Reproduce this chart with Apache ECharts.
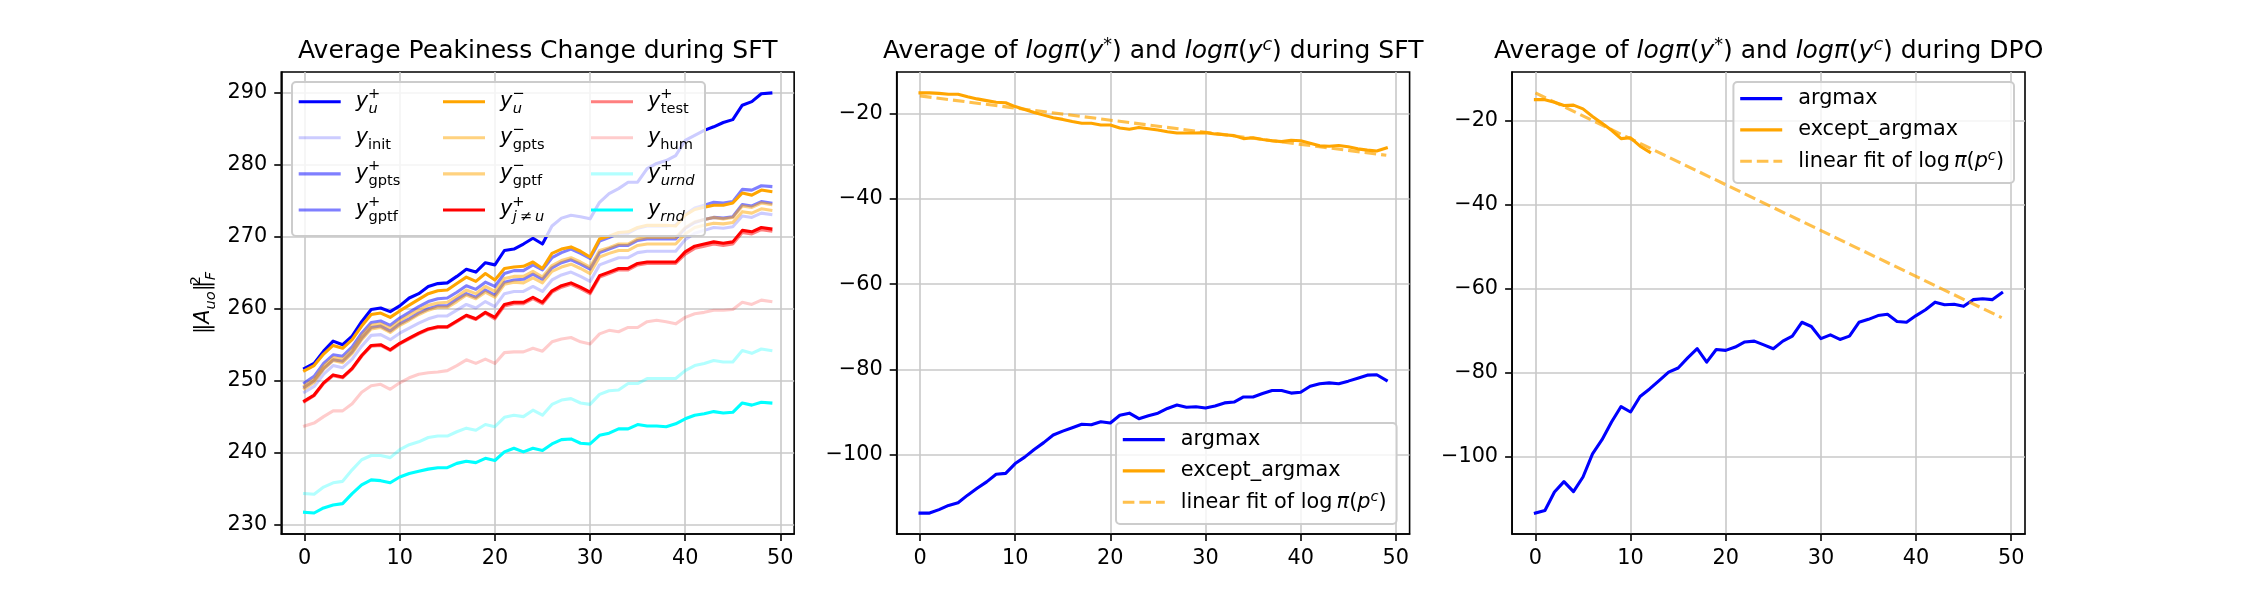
<!DOCTYPE html>
<html>
<head>
<meta charset="utf-8">
<title>Peakiness / log-prob during SFT and DPO</title>
<script src="https://cdn.jsdelivr.net/npm/echarts@6/dist/echarts.min.js"></script>
<style>
html, body { margin: 0; padding: 0; background: #fff; }
#main { width: 2250px; height: 600px; }
</style>
</head>
<body>
<div id="main"></div>
<script>
// x values: training steps 0..49
var steps = [0, 1, 2, 3, 4, 5, 6, 7, 8, 9, 10, 11, 12, 13, 14, 15, 16, 17, 18, 19,
    20, 21, 22, 23, 24, 25, 26, 27, 28, 29, 30, 31, 32, 33, 34, 35, 36, 37, 38, 39,
    40, 41, 42, 43, 44, 45, 46, 47, 48, 49];
var fitSteps = [0, 49];

// panel 1: average peakiness ||A_uo||_F^2
var yUPlus = [251.7, 252.4, 254.1, 255.5, 255.0, 256.2, 258.2, 259.9, 260.1, 259.6,
    260.4, 261.5, 262.1, 263.1, 263.5, 263.6, 264.5, 265.5, 265.1, 266.4,
    266.1, 268.1, 268.3, 269.0, 269.8, 269.0, 271.5, 272.6, 273.0, 272.8,
    272.5, 274.8, 276.0, 276.7, 277.6, 277.6, 279.5, 280.2, 280.6, 281.3,
    283.4, 284.1, 284.8, 285.3, 285.9, 286.3, 288.3, 288.8, 289.9, 290.0];
var yInit = [248.4, 249.2, 250.9, 252.1, 251.8, 253.0, 254.8, 256.3, 256.4, 255.7,
    256.6, 257.3, 258.0, 258.6, 259.0, 259.0, 259.8, 260.6, 260.1, 261.0,
    260.3, 262.1, 262.4, 262.4, 263.1, 262.4, 264.0, 264.7, 265.1, 264.5,
    263.8, 266.1, 266.6, 267.1, 267.1, 267.8, 268.0, 268.0, 268.0, 268.0,
    269.6, 270.5, 270.9, 271.3, 271.2, 271.4, 272.9, 272.7, 273.3, 273.1];
var yGptsPlus = [249.7, 250.6, 252.4, 253.6, 253.4, 254.7, 256.6, 258.1, 258.3, 257.7,
    258.7, 259.5, 260.3, 261.0, 261.4, 261.5, 262.3, 263.2, 262.7, 263.7,
    263.1, 264.9, 265.3, 265.3, 266.1, 265.4, 267.1, 267.8, 268.3, 267.7,
    267.0, 269.4, 269.9, 270.5, 270.5, 271.2, 271.5, 271.5, 271.5, 271.6,
    273.1, 274.0, 274.4, 274.8, 274.7, 274.9, 276.6, 276.5, 277.1, 277.0];
var yGptfPlus = [249.1, 250.0, 251.7, 252.9, 252.7, 254.0, 255.9, 257.4, 257.6, 256.9,
    257.9, 258.6, 259.4, 260.0, 260.4, 260.4, 261.3, 262.1, 261.6, 262.6,
    261.9, 263.7, 264.0, 264.1, 264.8, 264.1, 265.7, 266.4, 266.8, 266.2,
    265.5, 267.8, 268.3, 268.8, 268.8, 269.5, 269.7, 269.7, 269.7, 269.7,
    271.2, 272.0, 272.4, 272.7, 272.6, 272.8, 274.5, 274.3, 274.9, 274.7];
var yUMinus = [251.4, 252.1, 253.7, 254.9, 254.5, 255.7, 257.6, 259.2, 259.4, 258.8,
    259.7, 260.5, 261.3, 262.1, 262.5, 262.6, 263.5, 264.4, 263.8, 264.9,
    264.0, 265.6, 265.8, 265.9, 266.5, 265.6, 267.7, 268.3, 268.6, 268.0,
    267.2, 269.7, 270.1, 270.6, 270.7, 271.3, 271.6, 271.6, 271.6, 271.5,
    273.0, 273.8, 274.1, 274.4, 274.4, 274.7, 276.1, 275.8, 276.5, 276.3];
var yGptsMinus = [249.3, 250.2, 252.0, 253.2, 253.0, 254.3, 256.2, 257.7, 257.9, 257.3,
    258.3, 259.1, 259.8, 260.5, 260.8, 260.9, 261.7, 262.6, 262.1, 263.1,
    262.4, 264.2, 264.5, 264.5, 265.2, 264.4, 266.0, 266.7, 267.1, 266.5,
    265.8, 268.1, 268.5, 269.0, 269.0, 269.7, 269.9, 269.9, 269.9, 269.9,
    271.3, 272.1, 272.4, 272.7, 272.5, 272.7, 274.3, 274.1, 274.7, 274.5];
var yGptfMinus = [248.9, 249.8, 251.6, 252.8, 252.5, 253.8, 255.7, 257.2, 257.4, 256.7,
    257.7, 258.4, 259.2, 259.8, 260.2, 260.2, 261.0, 261.9, 261.4, 262.3,
    261.6, 263.4, 263.7, 263.6, 264.3, 263.6, 265.2, 265.8, 266.2, 265.6,
    264.9, 267.2, 267.7, 268.1, 268.1, 268.8, 269.0, 269.0, 269.0, 269.0,
    270.4, 271.3, 271.6, 271.9, 271.8, 272.0, 273.5, 273.3, 273.9, 273.7];
var yJneU = [247.2, 248.0, 249.7, 250.8, 250.5, 251.7, 253.5, 254.9, 255.0, 254.3,
    255.2, 255.9, 256.6, 257.2, 257.5, 257.5, 258.3, 259.1, 258.6, 259.5,
    258.8, 260.6, 260.9, 260.9, 261.6, 260.9, 262.5, 263.2, 263.6, 263.0,
    262.3, 264.6, 265.1, 265.6, 265.6, 266.3, 266.5, 266.5, 266.5, 266.5,
    267.9, 268.7, 269.0, 269.3, 269.1, 269.3, 270.9, 270.7, 271.3, 271.1];
var yTest = [247.1, 247.9, 249.6, 250.7, 250.4, 251.6, 253.4, 254.8, 254.9, 254.2,
    255.1, 255.8, 256.5, 257.1, 257.4, 257.4, 258.2, 259.0, 258.5, 259.4,
    258.6, 260.4, 260.7, 260.7, 261.4, 260.7, 262.3, 263.0, 263.4, 262.8,
    262.1, 264.4, 264.9, 265.4, 265.4, 266.1, 266.3, 266.3, 266.3, 266.3,
    267.6, 268.4, 268.7, 269.0, 268.8, 269.0, 270.6, 270.4, 271.0, 270.8];
var yHum = [243.7, 244.1, 245.0, 245.8, 245.8, 246.8, 248.4, 249.3, 249.5, 248.8,
    249.7, 250.4, 250.9, 251.1, 251.2, 251.4, 252.1, 252.9, 252.4, 253.0,
    252.4, 253.9, 254.0, 254.0, 254.5, 254.1, 255.4, 255.8, 256.0, 255.4,
    255.1, 256.5, 257.0, 256.8, 257.4, 257.4, 258.2, 258.4, 258.2, 257.9,
    258.8, 259.3, 259.5, 259.8, 259.8, 259.9, 260.9, 260.6, 261.2, 261.0];
var yUrnd = [234.3, 234.2, 235.2, 235.8, 236.0, 237.6, 239.0, 239.6, 239.6, 239.3,
    240.4, 241.1, 241.5, 242.1, 242.3, 242.3, 242.9, 243.4, 243.1, 243.9,
    243.6, 244.9, 245.2, 245.0, 245.9, 245.2, 246.7, 247.3, 247.5, 246.9,
    246.7, 248.1, 248.6, 248.7, 249.6, 249.6, 250.3, 250.3, 250.3, 250.3,
    251.4, 252.1, 252.4, 252.8, 252.6, 252.6, 254.2, 253.8, 254.4, 254.2];
var yRnd = [231.7, 231.6, 232.3, 232.7, 232.9, 234.3, 235.5, 236.2, 236.1, 235.8,
    236.6, 237.1, 237.4, 237.7, 237.9, 237.9, 238.5, 238.8, 238.6, 239.2,
    238.9, 240.1, 240.6, 240.1, 240.6, 240.3, 241.2, 241.8, 241.9, 241.3,
    241.2, 242.4, 242.7, 243.3, 243.3, 243.9, 243.7, 243.7, 243.6, 244.0,
    244.7, 245.2, 245.4, 245.7, 245.5, 245.6, 246.9, 246.6, 247.0, 246.9];

// panel 2: log-prob during SFT
var sftArgmax = [-113.6, -113.6, -112.8, -111.8, -111.2, -109.4, -107.8, -106.3, -104.5, -104.3,
    -102.0, -100.5, -98.7, -97.1, -95.3, -94.4, -93.6, -92.8, -92.9, -92.2,
    -92.5, -90.7, -90.2, -91.5, -90.8, -90.2, -89.1, -88.3, -88.8, -88.7,
    -89.0, -88.5, -87.8, -87.6, -86.4, -86.4, -85.6, -84.9, -84.9, -85.5,
    -85.3, -83.9, -83.3, -83.1, -83.3, -82.7, -82.0, -81.3, -81.2, -82.5];
var sftExcept = [-15.2, -15.2, -15.3, -15.5, -15.5, -16.1, -16.6, -17.0, -17.4, -17.5,
    -18.4, -19.1, -19.8, -20.4, -21.0, -21.4, -21.9, -22.3, -22.3, -22.7,
    -22.7, -23.4, -23.7, -23.3, -23.6, -23.9, -24.3, -24.6, -24.6, -24.6,
    -24.5, -24.8, -25.0, -25.2, -25.9, -25.7, -26.1, -26.4, -26.6, -26.3,
    -26.4, -27.0, -27.6, -27.7, -27.5, -27.8, -28.3, -28.6, -28.8, -28.1];
var sftFit = [-15.9, -29.8];

// panel 3: log-prob during DPO
var dpoArgmax = [-113.5, -112.9, -108.5, -106.0, -108.4, -104.9, -99.4, -96.0, -91.8, -88.1,
    -89.4, -85.7, -83.9, -81.9, -79.9, -78.9, -76.5, -74.3, -77.5, -74.5,
    -74.7, -73.9, -72.7, -72.5, -73.4, -74.3, -72.5, -71.3, -68.0, -69.0,
    -71.9, -71.0, -72.1, -71.3, -68.0, -67.3, -66.4, -66.1, -67.8, -68.0,
    -66.4, -65.0, -63.2, -63.8, -63.7, -64.2, -62.6, -62.4, -62.6, -61.0];
var dpoExcept = [-14.9, -14.9, -15.5, -16.3, -16.2, -17.1, -18.9, -20.5, -22.2, -24.2,
    -24.0, -26.0, -27.4];
var dpoFit = [-13.3, -66.9];

var xTicks = [0, 10, 20, 30, 40, 50];
var peakTicks = [230, 240, 250, 260, 270, 280, 290];
var logTicks = [-100, -80, -60, -40, -20];

var font = 'DejaVu Sans';
var fs = 20.8;

// legend handles: a solid bar and a dashed bar, 42 x 3.1 px
var solidIcon = 'path://M0,0H42V3.1H0Z';
var dashIcon = 'path://M0,0H11.6V3.1H0Z M16.6,0H28.2V3.1H16.6Z M33.2,0H42V3.1H33.2Z';

function pairs(xs, ys) {
    return ys.map(function (v, i) { return [xs[i], v]; });
}

function minusSign(v) {
    return String(v).replace('-', '\u2212');
}

var grids = [281.25, 896.7, 1512.1].map(function (left) {
    return {
        left: left, top: 72, width: 512.9, height: 462,
        show: true, borderColor: '#000', borderWidth: 1.6,
        backgroundColor: 'transparent', containLabel: false
    };
});

function makeX(idx) {
    return {
        type: 'value', gridIndex: idx, min: -2.45, max: 51.45,
        axisLine: { show: true, onZero: false, lineStyle: { color: '#000', width: 1.6 } },
        axisTick: { show: true, length: 7, customValues: xTicks, lineStyle: { color: '#000', width: 1.6 } },
        axisLabel: {
            customValues: xTicks, margin: 14, color: '#000', fontSize: fs, fontFamily: font,
            formatter: function (v) { return v % 10 === 0 ? minusSign(v) : ''; }
        },
        splitLine: { show: true, lineStyle: { color: '#c8c8c8', width: 1.6 } }
    };
}

function makeY(idx, min, max, ticks) {
    return {
        type: 'value', gridIndex: idx, min: min, max: max,
        axisLine: { show: true, onZero: false, lineStyle: { color: '#000', width: 1.6 } },
        axisTick: { show: true, length: 7, customValues: ticks, lineStyle: { color: '#000', width: 1.6 } },
        axisLabel: {
            customValues: ticks, margin: 14, color: '#000', fontSize: fs, fontFamily: font,
            formatter: function (v) { return v % 10 === 0 ? minusSign(v) : ''; }
        },
        splitLine: { show: true, lineStyle: { color: '#c8c8c8', width: 1.6 } }
    };
}

// panel 1 series table: name, data, colour (plot order)
var peakTable = [
    ['u+', yUPlus, 'rgb(0,0,255)'],
    ['init', yInit, 'rgba(0,0,255,0.2)'],
    ['gpts+', yGptsPlus, 'rgba(0,0,255,0.5)'],
    ['gptf+', yGptfPlus, 'rgba(0,0,255,0.5)'],
    ['u-', yUMinus, 'rgb(255,165,0)'],
    ['gpts-', yGptsMinus, 'rgba(255,165,0,0.5)'],
    ['gptf-', yGptfMinus, 'rgba(255,165,0,0.5)'],
    ['jneu', yJneU, 'rgb(255,0,0)'],
    ['test', yTest, 'rgba(255,0,0,0.5)'],
    ['hum', yHum, 'rgba(255,0,0,0.2)'],
    ['urnd', yUrnd, 'rgba(0,255,255,0.3)'],
    ['rnd', yRnd, 'rgb(0,255,255)']
];

var peakLabels = {
    'u+': '{i|y}{pz|+}{sb|u}',
    'init': '{i|y}{sr|init}',
    'gpts+': '{i|y}{pz|+}{sr|gpts}',
    'gptf+': '{i|y}{pz|+}{sr|gptf}',
    'u-': '{i|y}{pz|\u2212}{sb|u}',
    'gpts-': '{i|y}{pz|\u2212}{sr|gpts}',
    'gptf-': '{i|y}{pz|\u2212}{sr|gptf}',
    'jneu': '{i|y}{pz|+}{sb|j\u2009\u2260\u2009u}',
    'test': '{i|y}{pz|+}{sr|test}',
    'hum': '{i|y}{sr|hum}',
    'urnd': '{i|y}{pz|+}{sb|urnd}',
    'rnd': '{i|y}{sb|rnd}'
};

var logLabels = {
    'sft_argmax': 'argmax', 'sft_except': 'except_argmax',
    'dpo_argmax': 'argmax', 'dpo_except': 'except_argmax',
    'sft_fit': '{n|linear fit of log\u2009}{it|\u03c0}{n|(}{it|p}{sp|c}{n|)}',
    'dpo_fit': '{n|linear fit of log\u2009}{it|\u03c0}{n|(}{it|p}{sp|c}{n|)}'
};

function lineSeries(name, idx, data, color, dashed) {
    return {
        type: 'line', name: name, xAxisIndex: idx, yAxisIndex: idx, data: data,
        symbol: 'none', showSymbol: false, animation: false, silent: true, z: 2,
        itemStyle: { color: color },
        lineStyle: { color: color, width: 3.1, join: 'round', cap: dashed ? 'butt' : 'square', type: dashed ? [11.6, 5] : 'solid' },
        emphasis: { disabled: true }
    };
}

var series = peakTable.map(function (row) {
    return lineSeries(row[0], 0, pairs(steps, row[1]), row[2], false);
});
series.push(lineSeries('sft_argmax', 1, pairs(steps, sftArgmax), 'rgb(0,0,255)', false));
series.push(lineSeries('sft_except', 1, pairs(steps, sftExcept), 'rgb(255,165,0)', false));
series.push(lineSeries('sft_fit', 1, pairs(fitSteps, sftFit), 'rgba(255,165,0,0.7)', true));
series.push(lineSeries('dpo_argmax', 2, pairs(steps, dpoArgmax), 'rgb(0,0,255)', false));
series.push(lineSeries('dpo_except', 2, pairs(steps, dpoExcept), 'rgb(255,165,0)', false));
series.push(lineSeries('dpo_fit', 2, pairs(fitSteps, dpoFit), 'rgba(255,165,0,0.7)', true));

var peakRich = {
    i: { fontFamily: font, fontSize: fs, fontStyle: 'italic', lineHeight: 30, color: '#000' },
    sb: { fontFamily: font, fontSize: 14.6, fontStyle: 'italic', lineHeight: 17, verticalAlign: 'bottom', color: '#000' },
    sr: { fontFamily: font, fontSize: 14.6, lineHeight: 17, verticalAlign: 'bottom', color: '#000' },
    pz: { fontFamily: font, fontSize: 14.6, lineHeight: 16, verticalAlign: 'top', width: 0.5, color: '#000' }
};

function iconData(names, dashedName) {
    return names.map(function (n) {
        return { name: n, icon: n === dashedName ? dashIcon : solidIcon };
    });
}

function peakLegend(left, names) {
    return {
        orient: 'vertical', left: left, top: 86.7, padding: 0, itemGap: 6.1,
        itemWidth: 42, itemHeight: 3.1, selectedMode: false, z: 6,
        data: iconData(names, null),
        formatter: function (name) { return peakLabels[name]; },
        textStyle: { fontFamily: font, fontSize: fs, lineHeight: 30, color: '#000', padding: [0, 0, 0, 10], rich: peakRich }
    };
}

var logRich = {
    n: { fontFamily: font, fontSize: fs, lineHeight: 24, color: '#000' },
    it: { fontFamily: font, fontSize: fs, fontStyle: 'italic', lineHeight: 24, color: '#000' },
    sp: { fontFamily: font, fontSize: 14.6, fontStyle: 'italic', lineHeight: 10, verticalAlign: 'top', color: '#000' }
};

function logLegend(pos, names) {
    var lg = {
        orient: 'vertical', padding: [4.6, 10, 9.7, 6.8], itemGap: 7.3,
        itemWidth: 42, itemHeight: 3.1, selectedMode: false, z: 6,
        backgroundColor: 'rgba(255,255,255,0.8)', borderColor: '#cccccc', borderWidth: 2, borderRadius: 4,
        data: iconData(names, names[2]),
        formatter: function (name) { return logLabels[name]; },
        textStyle: { fontFamily: font, fontSize: fs, lineHeight: 24, color: '#000', padding: [0, 0, 0, 11], rich: logRich }
    };
    for (var k in pos) { lg[k] = pos[k]; }
    return lg;
}

var titleRich = {
    n: { fontFamily: font, fontSize: 25, lineHeight: 30, color: '#000' },
    it: { fontFamily: font, fontSize: 25, fontStyle: 'italic', lineHeight: 30, color: '#000' },
    sp: { fontFamily: font, fontSize: 17.5, fontStyle: 'italic', lineHeight: 13, verticalAlign: 'top', color: '#000' }
};

function logTitle(phase) {
    return '{n|Average of }{it|log\u03c0}{n|(}{it|y}{sp|*}{n|) and }{it|log\u03c0}{n|(}{it|y}{sp|c}{n|) during ' + phase + '}';
}

var titles = [
    { text: 'Average Peakiness Change during SFT', left: 537.7 },
    { text: logTitle('SFT'), left: 1153.2 },
    { text: logTitle('DPO'), left: 1768.6 }
].map(function (t) {
    return {
        text: t.text, left: t.left, top: 36, padding: 0, textAlign: 'center',
        textStyle: { fontFamily: font, fontSize: 25, fontWeight: 'normal', lineHeight: 30, color: '#000', rich: titleRich }
    };
});

var chart = echarts.init(document.getElementById('main'), null, { renderer: 'canvas', width: 2250, height: 600 });

chart.setOption({
    backgroundColor: '#ffffff',
    animation: false,
    title: titles,
    grid: grids,
    xAxis: [makeX(0), makeX(1), makeX(2)],
    yAxis: [
        makeY(0, 228.68, 292.92, peakTicks),
        makeY(1, -118.5, -10.3, logTicks),
        makeY(2, -118.5, -8.3, logTicks)
    ],
    legend: [
        peakLegend(298.7, ['u+', 'init', 'gpts+', 'gptf+']),
        peakLegend(443, ['u-', 'gpts-', 'gptf-', 'jneu']),
        peakLegend(591, ['test', 'hum', 'urnd', 'rnd']),
        logLegend({ left: 1116, top: 423 }, ['sft_argmax', 'sft_except', 'sft_fit']),
        logLegend({ right: 236, top: 82 }, ['dpo_argmax', 'dpo_except', 'dpo_fit'])
    ],
    graphic: {
        z: 5,
        elements: [
            {
                // translucent frame behind the three legend columns of panel 1
                type: 'rect', z: 5, silent: true,
                shape: { x: 292, y: 82, width: 413, height: 154, r: 4 },
                style: { fill: 'rgba(255,255,255,0.8)', stroke: '#cccccc', lineWidth: 2 }
            },
            {
                type: 'text', z: 5, silent: true, x: 204, y: 303, rotation: Math.PI / 2,
                style: {
                    text: '{n|\u2016}{i|A}{sb|uo}{n|\u2016}{pz|2}{sb|F}',
                    align: 'center', verticalAlign: 'middle',
                    rich: {
                        n: { fontFamily: font, fontSize: fs, lineHeight: 30, fill: '#000', color: '#000' },
                        i: { fontFamily: font, fontSize: fs, fontStyle: 'italic', lineHeight: 30, fill: '#000', color: '#000' },
                        sb: { fontFamily: font, fontSize: 14.6, fontStyle: 'italic', lineHeight: 17, verticalAlign: 'bottom', fill: '#000', color: '#000' },
                        pz: { fontFamily: font, fontSize: 14.6, lineHeight: 16, verticalAlign: 'top', width: 0.5, fill: '#000', color: '#000' }
                    }
                }
            }
        ]
    },
    series: series
});
</script>
</body>
</html>
